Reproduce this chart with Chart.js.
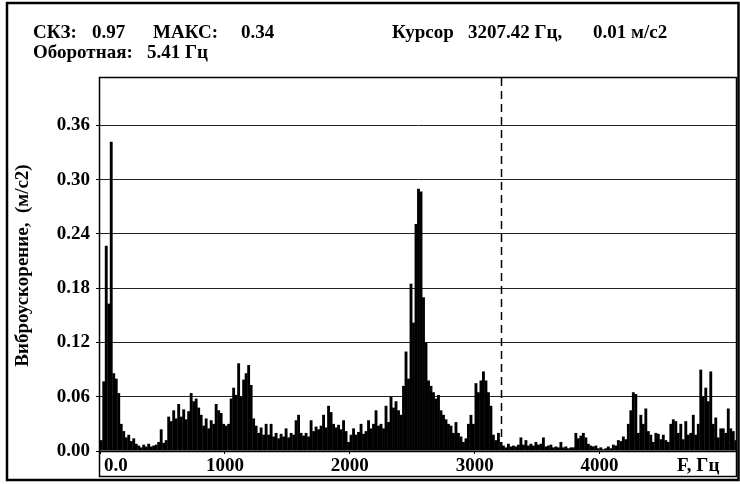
<!DOCTYPE html>
<html><head><meta charset="utf-8">
<script src="https://cdn.jsdelivr.net/npm/chart.js@4.4.1/dist/chart.umd.min.js"></script>
<style>html,body{margin:0;padding:0;background:#fff;}canvas{display:block;}</style>
</head><body>
<canvas id="c" width="740" height="484"></canvas>
<script>
// Spectrum amplitude (m/s2) in 20 Hz bins
const binHz = 20;
const amp0000 = [0.012,0.077,0.227,0.163,0.342,0.086,0.08,0.064,0.03,0.022,
 0.015,0.018,0.011,0.014,0.008,0.006,0.004,0.007,0.005,0.008,
 0.005,0.006,0.007,0.01,0.024,0.009,0.012,0.038,0.033,0.045,
 0.036,0.052,0.038,0.046,0.035,0.044,0.064,0.055,0.058,0.048,
 0.04,0.028,0.036,0.025,0.034,0.03,0.052,0.045,0.042,0.03];
const amp1000 = [0.028,0.03,0.058,0.07,0.062,0.097,0.06,0.079,0.086,0.095,
 0.073,0.036,0.028,0.02,0.026,0.018,0.03,0.018,0.03,0.016,
 0.02,0.014,0.019,0.016,0.025,0.015,0.02,0.018,0.034,0.04,
 0.02,0.017,0.02,0.016,0.034,0.022,0.027,0.024,0.028,0.04,
 0.026,0.05,0.043,0.03,0.026,0.029,0.024,0.034,0.022,0.01];
const amp2000 = [0.018,0.025,0.018,0.021,0.03,0.019,0.022,0.034,0.025,0.03,
 0.045,0.028,0.03,0.025,0.05,0.032,0.06,0.048,0.055,0.045,
 0.04,0.072,0.11,0.08,0.185,0.142,0.251,0.29,0.287,0.17,
 0.12,0.078,0.072,0.065,0.058,0.062,0.045,0.04,0.035,0.03,
 0.028,0.02,0.032,0.02,0.016,0.01,0.014,0.03,0.04,0.03];
const amp3000 = [0.075,0.065,0.078,0.088,0.078,0.065,0.05,0.018,0.012,0.02,
 0.01,0.006,0.004,0.008,0.005,0.006,0.005,0.007,0.015,0.007,
 0.012,0.006,0.008,0.006,0.01,0.007,0.008,0.015,0.005,0.006,
 0.007,0.004,0.005,0.004,0.01,0.004,0.005,0.003,0.004,0.004,
 0.02,0.014,0.017,0.02,0.015,0.008,0.006,0.005,0.006,0.003];
const amp4000 = [0.004,0.002,0.003,0.005,0.003,0.007,0.006,0.012,0.011,0.016,
 0.013,0.03,0.045,0.065,0.063,0.02,0.04,0.03,0.047,0.022,
 0.018,0.01,0.02,0.019,0.013,0.018,0.012,0.01,0.03,0.035,
 0.033,0.02,0.03,0.013,0.033,0.018,0.02,0.04,0.018,0.03,
 0.09,0.06,0.07,0.055,0.088,0.03,0.037,0.015,0.025,0.025,
 0.02,0.047,0.025,0.022,0.012];

const xTickValues = [0, 1000, 2000, 3000, 4000];
const xTickLabels = ['0.0', '1000', '2000', '3000', '4000'];
const xUnitLabel = 'F, Гц';
const yTickStep = 0.06;
const yMax = 0.4125;
const xMax = 5100;
const yTitle = 'Виброускорение,  (м/с2)';
const cursorHz = 3207.42;
const header1 = [['СКЗ:', 33], ['0.97', 92], ['МАКС:', 153], ['0.34', 241], ['Курсор', 392], ['3207.42 Гц,', 468], ['0.01 м/с2', 593]];
const header2 = [['Оборотная:', 33], ['5.41 Гц', 147]];

const amps = [].concat(amp0000, amp1000, amp2000, amp3000, amp4000);
const points = amps.map((v, i) => ({x: i * binHz + binHz / 2, y: v}));

const FONT = '"Liberation Serif", "Times New Roman", serif';
const FS = 19;

const decor = {
  id: 'decor',
  afterDraw(chart) {
    const ctx = chart.ctx, a = chart.chartArea, xs = chart.scales.x;
    ctx.save();
    // cursor
    const cx = Math.round(xs.getPixelForValue(cursorHz)) + 0.5;
    ctx.strokeStyle = '#000';
    ctx.lineWidth = 1.5;
    ctx.setLineDash([8, 5]);
    ctx.beginPath(); ctx.moveTo(cx, a.top); ctx.lineTo(cx, a.bottom); ctx.stroke();
    ctx.setLineDash([]);
    // inner box
    ctx.lineWidth = 1.5;
    ctx.strokeRect(a.left - 0.5, a.top - 0.5, a.right - a.left, 476.5 - a.top + 0.5);
    ctx.beginPath(); ctx.moveTo(a.left - 1, a.bottom + 0.5); ctx.lineTo(a.right, a.bottom + 0.5); ctx.stroke();
    // outer frame
    ctx.lineWidth = 2.5;
    ctx.strokeRect(7, 3, 731.5, 477);
    // text
    ctx.fillStyle = '#000';
    ctx.font = 'bold ' + FS + 'px ' + FONT;
    ctx.textBaseline = 'middle';
    ctx.textAlign = 'left';
    header1.forEach(([t, x]) => ctx.fillText(t, x, 33));
    header2.forEach(([t, x]) => ctx.fillText(t, x, 53));
    // x tick labels
    xTickValues.forEach((v, i) => {
      const px = xs.getPixelForValue(v);
      if (i === 0) { ctx.textAlign = 'left'; ctx.fillText(xTickLabels[i], px + 4, 466); }
      else { ctx.textAlign = 'center'; ctx.fillText(xTickLabels[i], px, 466); }
    });
    ctx.textAlign = 'left';
    ctx.fillText(xUnitLabel, 677, 466);
    // y title
    ctx.translate(23, (a.top + a.bottom) / 2 + 1);
    ctx.rotate(-Math.PI / 2);
    ctx.textAlign = 'center';
    ctx.fillText(yTitle, 0, 0);
    ctx.restore();
  }
};

new Chart(document.getElementById('c'), {
  type: 'bar',
  data: {
    datasets: [{
      data: points,
      backgroundColor: '#000',
      borderWidth: 0,
      barPercentage: 1.15,
      categoryPercentage: 1
    }]
  },
  options: {
    responsive: false,
    animation: false,
    devicePixelRatio: 1,
    layout: {padding: {top: 78, right: 3, bottom: 0, left: 0}},
    plugins: {legend: {display: false}, tooltip: {enabled: false}},
    scales: {
      x: {
        type: 'linear', min: 0, max: xMax, offset: false,
        afterFit: s => { s.height = 33; },
        afterBuildTicks: s => { s.ticks = xTickValues.map(v => ({value: v})); },
        ticks: {display: false},
        grid: {display: true, drawOnChartArea: false, drawTicks: true, tickLength: 3, tickColor: '#000', offset: false},
        border: {display: false}
      },
      y: {
        min: 0, max: yMax,
        afterFit: s => { s.width = 100; },
        ticks: {
          stepSize: yTickStep, includeBounds: false, color: '#000', padding: 6,
          font: {family: FONT, size: FS, weight: 'bold'},
          callback: v => v.toFixed(2)
        },
        grid: {color: '#222', lineWidth: 1, tickLength: 4, tickColor: '#000'},
        border: {display: false}
      }
    }
  },
  plugins: [decor]
});
</script>
</body></html>
